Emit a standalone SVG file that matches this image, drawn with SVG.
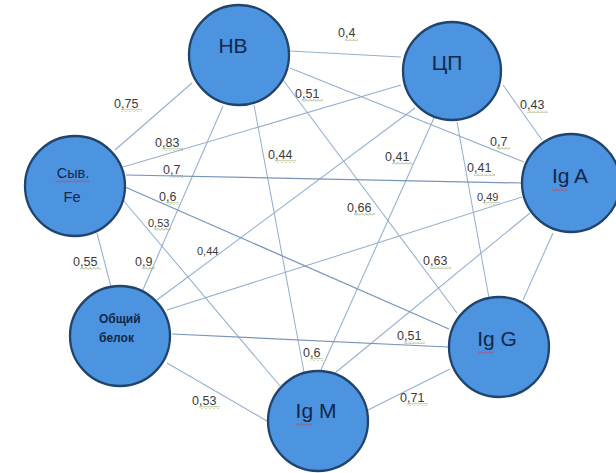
<svg xmlns="http://www.w3.org/2000/svg" width="616" height="473" viewBox="0 0 616 473">
<style>
.e{stroke:#93afd0;stroke-width:1.05;fill:none}
.d{stroke:#7794bb;stroke-width:1.25;fill:none}
.n{fill:#4c93e0;stroke:#21446d;stroke-width:2.3}
.t{font-family:"Liberation Sans",Arial,sans-serif;fill:#12284a}
.l{font-family:"Liberation Sans",Arial,sans-serif;font-size:12.5px;fill:#3a3a3a}
.s{font-size:11px}
</style>
<defs>
<pattern id="sqg" width="4" height="3" patternUnits="userSpaceOnUse"><path d="M0 2.5L2 0.5L4 2.5" stroke="#7c9a48" stroke-width="0.8" fill="none"/></pattern>
<pattern id="sqr" width="4" height="3" patternUnits="userSpaceOnUse"><path d="M0 2.5L2 0.5L4 2.5" stroke="#d23b3b" stroke-width="0.8" fill="none"/></pattern>
</defs>
<rect width="616" height="473" fill="#fff"/>
<g id="connectors">
<line class="e" x1="290" y1="51" x2="401" y2="57"/>
<line class="e" x1="290" y1="68" x2="524" y2="162"/>
<line class="e" x1="192" y1="83" x2="115" y2="150"/>
<line class="e" x1="223" y1="106" x2="142" y2="292"/>
<line class="e" x1="254" y1="105" x2="304" y2="372"/>
<line class="e" x1="283" y1="80" x2="457" y2="313"/>
<line class="e" x1="503" y1="85" x2="542" y2="140"/>
<line class="e" x1="401" y1="85" x2="123" y2="167"/>
<line class="e" x1="415" y1="108" x2="157" y2="300"/>
<line class="e" x1="434" y1="118" x2="320" y2="372"/>
<line class="e" x1="457" y1="122" x2="489" y2="298"/>
<line class="d" x1="126" y1="175" x2="522" y2="183"/>
<line class="e" x1="522" y1="197" x2="167" y2="310"/>
<line class="e" x1="553" y1="233" x2="523" y2="300"/>
<line class="e" x1="530" y1="213" x2="335" y2="373"/>
<line class="d" x1="125" y1="187" x2="449" y2="329"/>
<line class="e" x1="123" y1="200" x2="280" y2="386"/>
<line class="e" x1="97" y1="233" x2="111" y2="287"/>
<line class="d" x1="172" y1="334" x2="448" y2="347"/>
<line class="e" x1="167" y1="363" x2="267" y2="421"/>
<line class="e" x1="368" y1="410" x2="450" y2="369"/>
</g>
<g id="edge-labels">
<text class="l" x="114" y="108">0,75</text>
<text class="l" x="155" y="147">0,83</text>
<text class="l" x="163" y="174">0,7</text>
<text class="l" x="159" y="201">0,6</text>
<text class="l s" x="148" y="227">0,53</text>
<text class="l" x="268" y="159">0,44</text>
<text class="l" x="338" y="37">0,4</text>
<text class="l" x="295" y="98">0,51</text>
<text class="l" x="520" y="109">0,43</text>
<text class="l" x="490" y="146">0,7</text>
<text class="l" x="385" y="161">0,41</text>
<text class="l" x="467" y="172">0,41</text>
<text class="l s" x="477" y="201">0,49</text>
<text class="l" x="347" y="212">0,66</text>
<text class="l" x="73" y="266">0,55</text>
<text class="l" x="135" y="266">0,9</text>
<text class="l s" x="197" y="255">0,44</text>
<text class="l" x="192" y="405">0,53</text>
<text class="l" x="423" y="265">0,63</text>
<text class="l" x="397" y="340">0,51</text>
<text class="l" x="303" y="357">0,6</text>
<text class="l" x="400" y="402">0,71</text>
<g id="squiggles">
<rect x="121" y="109" width="21" height="3" fill="url(#sqg)"/>
<rect x="162" y="148" width="21" height="3" fill="url(#sqg)"/>
<rect x="170" y="175" width="13" height="3" fill="url(#sqg)"/>
<rect x="166" y="202" width="13" height="3" fill="url(#sqg)"/>
<rect x="154" y="228" width="17" height="3" fill="url(#sqg)"/>
<rect x="275" y="160" width="21" height="3" fill="url(#sqg)"/>
<rect x="345" y="38" width="13" height="3" fill="url(#sqg)"/>
<rect x="302" y="99" width="21" height="3" fill="url(#sqg)"/>
<rect x="527" y="110" width="21" height="3" fill="url(#sqg)"/>
<rect x="497" y="147" width="13" height="3" fill="url(#sqg)"/>
<rect x="392" y="162" width="21" height="3" fill="url(#sqg)"/>
<rect x="474" y="173" width="21" height="3" fill="url(#sqg)"/>
<rect x="483" y="202" width="17" height="3" fill="url(#sqg)"/>
<rect x="354" y="213" width="21" height="3" fill="url(#sqg)"/>
<rect x="80" y="267" width="21" height="3" fill="url(#sqg)"/>
<rect x="142" y="267" width="13" height="3" fill="url(#sqg)"/>
<rect x="199" y="406" width="21" height="3" fill="url(#sqg)"/>
<rect x="430" y="266" width="21" height="3" fill="url(#sqg)"/>
<rect x="404" y="341" width="21" height="3" fill="url(#sqg)"/>
<rect x="310" y="358" width="13" height="3" fill="url(#sqg)"/>
<rect x="407" y="403" width="21" height="3" fill="url(#sqg)"/>
</g>
</g>
<g id="node-hb">
<circle class="n" cx="239" cy="55" r="50"/>
<text class="t" x="233" y="53" font-size="21" text-anchor="middle">HB</text>
</g>
<g id="node-cp">
<circle class="n" cx="452" cy="71" r="49"/>
<text class="t" x="447" y="70" font-size="21" text-anchor="middle">ЦП</text>
</g>
<g id="node-iga">
<circle class="n" cx="571" cy="183" r="49"/>
<text class="t" x="570" y="183" font-size="21" text-anchor="middle">Ig A</text>
<rect x="552" y="188" width="16" height="3" fill="url(#sqr)"/>
</g>
<g id="node-fe">
<circle class="n" cx="75" cy="186" r="50"/>
<text class="t" x="73" y="178" font-size="14.5" text-anchor="middle">Сыв.</text>
<text class="t" x="72" y="202" font-size="14.5" text-anchor="middle">Fe</text>
<rect x="55" y="180" width="35" height="3" fill="url(#sqr)"/>
</g>
<g id="node-protein">
<circle class="n" cx="120" cy="336" r="50"/>
<text class="t" x="99" y="323" font-size="12" font-weight="bold">Общий</text>
<text class="t" x="99" y="342" font-size="12" font-weight="bold">белок</text>
</g>
<g id="node-igg">
<circle class="n" cx="499" cy="347" r="50"/>
<text class="t" x="497" y="346" font-size="21" text-anchor="middle">Ig G</text>
<rect x="478" y="351" width="16" height="3" fill="url(#sqr)"/>
</g>
<g id="node-igm">
<circle class="n" cx="318" cy="421" r="50"/>
<text class="t" x="316" y="418" font-size="21" text-anchor="middle">Ig M</text>
<rect x="296" y="423" width="16" height="3" fill="url(#sqr)"/>
</g>
</svg>
